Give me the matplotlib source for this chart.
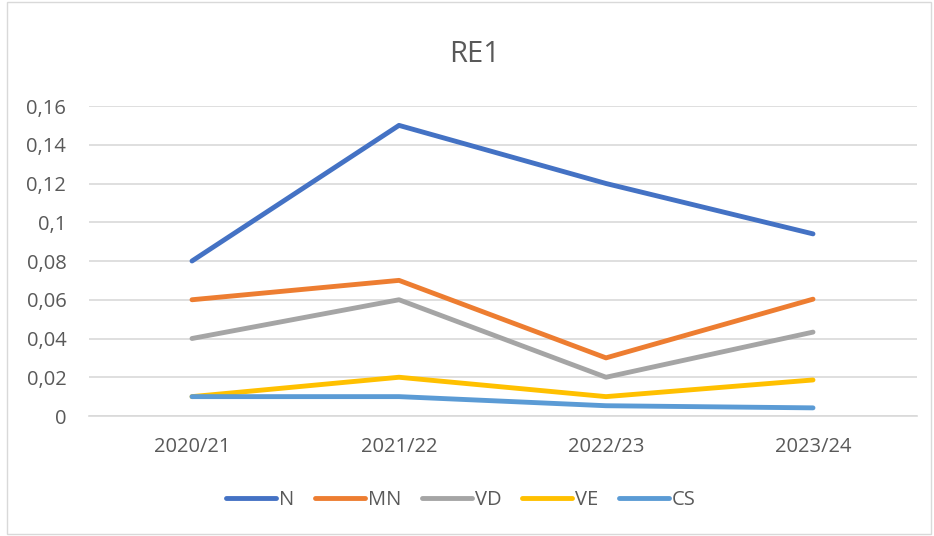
import matplotlib
matplotlib.use("Agg")
import matplotlib.pyplot as plt
from matplotlib.patches import Rectangle
from matplotlib.ticker import FuncFormatter

categories = ["2020/21", "2021/22", "2022/23", "2023/24"]
series_names = ["N", "MN", "VD", "VE", "CS"]
N = [0.08, 0.15, 0.12, 0.094]
MN = [0.06, 0.07, 0.03, 0.0603]
VD = [0.04, 0.06, 0.02, 0.0433]
VE = [0.01, 0.02, 0.01, 0.0186]
CS = [0.01, 0.01, 0.0053, 0.0042]
y_ticks = [0, 0.02, 0.04, 0.06, 0.08, 0.1, 0.12, 0.14, 0.16]
title = "RE1"

colors = ["#4472C4", "#ED7D31", "#A5A5A5", "#FFC000", "#5B9BD5"]

plt.rcParams['font.family'] = ['Open Sans', 'DejaVu Sans']

W, H = 934, 536
fig = plt.figure(figsize=(W/100, H/100), dpi=100)
fig.patch.set_facecolor("white")
fig.add_artist(Rectangle((7/W, 2/H), 924/W, 532/H, transform=fig.transFigure,
                         fill=False, edgecolor="#D9D9D9", linewidth=1))

ax = fig.add_axes([88.5/W, (H-416)/H, (916.5-88.5)/W, (416-106)/H])
x = list(range(len(categories)))
for name, vals, c in zip(series_names, [N, MN, VD, VE, CS], colors):
    ax.plot(x, vals, color=c, lw=3.5, solid_capstyle="round", solid_joinstyle="round", label=name)

ax.set_xlim(-0.5, len(categories) - 0.5)
ax.set_ylim(0, 0.16)
ax.set_yticks(y_ticks)
ax.yaxis.set_major_formatter(FuncFormatter(lambda v, p: ("%g" % round(v, 4)).replace(".", ",")))
ax.set_xticks(x)
ax.set_xticklabels(categories)
ax.tick_params(axis="both", length=0, labelsize=14.5, colors="#595959")
ax.tick_params(axis="x", pad=15)
ax.tick_params(axis="y", pad=16)
ax.grid(axis="y", color="#D9D9D9", lw=1.2)
ax.set_axisbelow(True)
for s in ax.spines.values():
    s.set_visible(False)
ax.spines["bottom"].set_visible(True)
ax.spines["bottom"].set_color("#D9D9D9")
ax.spines["bottom"].set_linewidth(1.2)

fig.text(475/W, 1 - 54/H, title, ha="center", va="center", fontsize=21, color="#595959")

leg = fig.legend(loc="center", bbox_to_anchor=(461/W, 1 - 500/H), ncol=5, frameon=False,
                 fontsize=14.5, handlelength=2.5, handletextpad=0.15, columnspacing=1.0,
                 labelcolor="#595959")

fig.savefig("out.png", dpi=100)
